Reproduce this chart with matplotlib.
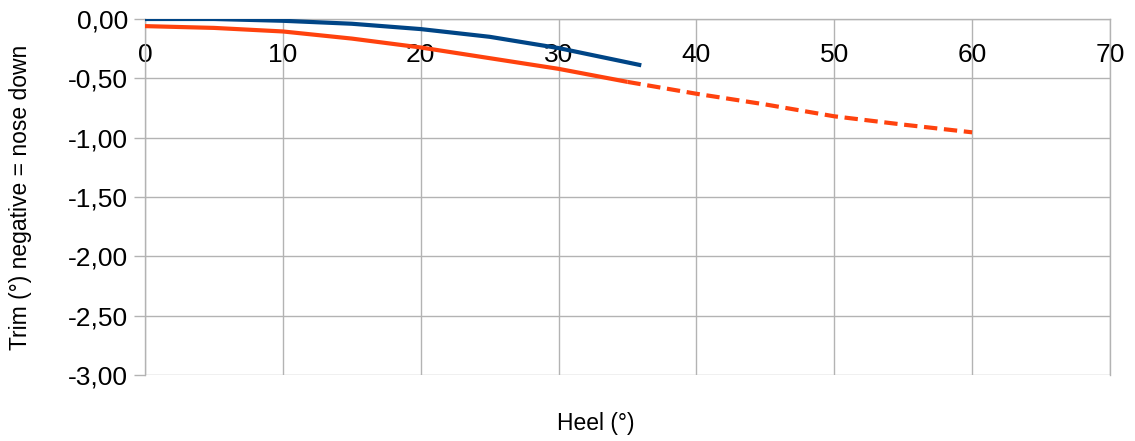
import matplotlib
matplotlib.use('Agg')
import matplotlib.pyplot as plt
from matplotlib.ticker import FuncFormatter

# ---- data
heel_a = [0, 5, 10, 15, 20, 25, 30, 36]
trim_a = [0.0, 0.0, -0.015, -0.04, -0.085, -0.15, -0.245, -0.39]

heel_b = [0, 5, 10, 15, 20, 25, 30, 35]
trim_b = [-0.06, -0.075, -0.105, -0.165, -0.24, -0.33, -0.42, -0.53]

heel_b_ext = [35, 40, 45, 50, 55, 60]
trim_b_ext = [-0.53, -0.63, -0.72, -0.82, -0.89, -0.955]

x_ticks = [0, 10, 20, 30, 40, 50, 60, 70]
y_ticks = [0.0, -0.5, -1.0, -1.5, -2.0, -2.5, -3.0]

# ---- style
blue = '#004586'
orange = '#ff420e'
grid_c = '#b3b3b3'
plt.rcParams['font.family'] = ['Liberation Sans', 'DejaVu Sans']

fig = plt.figure(figsize=(11.35, 4.41), dpi=100)
ax = fig.add_axes([145 / 1135, 1 - 375 / 441, 965 / 1135, 356 / 441])

ax.plot(heel_a, trim_a, color=blue, lw=3.0, solid_capstyle='butt', zorder=3)
ax.plot(heel_b, trim_b, color=orange, lw=3.0, solid_capstyle='butt', zorder=3)
ax.plot(heel_b_ext, trim_b_ext, color=orange, lw=3.0, dashes=(3.2, 1.6), zorder=3)

ax.set_xlim(0, 70)
ax.set_ylim(-3, 0)
ax.set_xticks(x_ticks)
ax.set_yticks(y_ticks)
ax.yaxis.set_major_formatter(FuncFormatter(lambda v, p: f'{v:.2f}'.replace('.', ',')))

ax.grid(True, color=grid_c, lw=1)
ax.set_axisbelow(True)

for s in ['top', 'right', 'left']:
    ax.spines[s].set_color(grid_c)
    ax.spines[s].set_linewidth(1)
ax.spines['bottom'].set_position(('data', 0))
ax.spines['bottom'].set_visible(False)

ax.tick_params(axis='x', length=0, pad=17.5, labelsize=19)
ax.tick_params(axis='y', length=8, color=grid_c, width=1, pad=4, labelsize=19)

ax.set_xlabel('Heel (°)', fontsize=16.5)
ax.xaxis.set_label_coords(0.467, -0.105)
ax.set_ylabel('Trim (°) negative = nose down', fontsize=16.5)
ax.yaxis.set_label_coords(-0.117, 0.5)

fig.savefig('out.png', dpi=100)
